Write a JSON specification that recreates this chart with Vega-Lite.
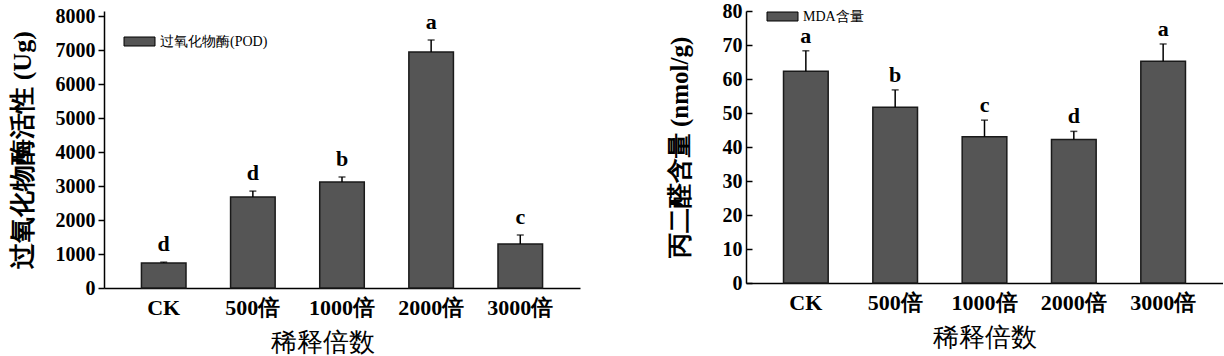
{
  "$schema": "https://vega.github.io/schema/vega-lite/v6.json",
  "padding": {"left": 8, "top": 1, "right": 0, "bottom": 0},
  "background": "white",
  "spacing": 87,
  "config": {
    "view": {"stroke": null},
    "font": "Liberation Serif",
    "axis": {
      "domainColor": "black", "domainWidth": 1.5, "tickColor": "black", "tickWidth": 1.5,
      "labelColor": "black", "titleColor": "black", "grid": false, "labelOverlap": false,
      "labelFont": "Liberation Serif", "titleFont": "Liberation Serif"
    }
  },
  "datasets": {
    "pod": [
      {"group": "CK", "value": 735, "upper": 760, "letter": "d", "series": "过氧化物酶(POD)"},
      {"group": "500倍", "value": 2676, "upper": 2850, "letter": "d", "series": "过氧化物酶(POD)"},
      {"group": "1000倍", "value": 3118, "upper": 3265, "letter": "b", "series": "过氧化物酶(POD)"},
      {"group": "2000倍", "value": 6941, "upper": 7294, "letter": "a", "series": "过氧化物酶(POD)"},
      {"group": "3000倍", "value": 1294, "upper": 1559, "letter": "c", "series": "过氧化物酶(POD)"}
    ],
    "mda": [
      {"group": "CK", "value": 62.3, "upper": 68.3, "letter": "a", "series": "MDA含量"},
      {"group": "500倍", "value": 51.7, "upper": 56.8, "letter": "b", "series": "MDA含量"},
      {"group": "1000倍", "value": 43.0, "upper": 47.9, "letter": "c", "series": "MDA含量"},
      {"group": "2000倍", "value": 42.2, "upper": 44.6, "letter": "d", "series": "MDA含量"},
      {"group": "3000倍", "value": 65.2, "upper": 70.3, "letter": "a", "series": "MDA含量"}
    ]
  },
  "resolve": {"scale": {"color": "independent"}, "legend": {"color": "independent"}},
  "hconcat": [
    {
      "width": 476, "height": 277,
      "data": {"name": "pod"},
      "encoding": {
        "x": {"field": "group", "type": "nominal", "sort": null,
          "scale": {"paddingInner": 0.5, "paddingOuter": 0.42},
          "axis": {"labelAngle": 0, "labelFontSize": 22, "labelFontWeight": "bold", "ticks": false, "labelPadding": 9,
            "title": "稀释倍数", "titleFontSize": 26, "titleFontWeight": "normal", "titlePadding": 11, "titleX": 218}}
      },
      "layer": [
        {"mark": {"type": "bar", "stroke": "#1a1a1a", "strokeWidth": 1.5},
          "encoding": {
            "y": {"field": "value", "type": "quantitative",
              "scale": {"domain": [0, 8147.06], "nice": false},
              "axis": {"values": [0,1000,2000,3000,4000,5000,6000,7000,8000], "tickCount": 20, "format": "d",
                "labelFontSize": 20, "labelFontWeight": "bold", "tickSize": 6, "labelPadding": 3,
                "title": "过氧化物酶活性 (Ug)", "titleFontSize": 26, "titleFontWeight": "bold", "titlePadding": 20}},
            "color": {"field": "series", "type": "nominal", "scale": {"range": ["#555555"]},
              "legend": {"title": null, "orient": "none", "legendX": 18, "legendY": 23.5, "padding": 0,
                "symbolType": "M-1,-0.9H5.2V0.9H-1Z", "symbolSize": 100, "symbolStrokeColor": "black", "symbolStrokeWidth": 1,
                "labelFont": "Liberation Serif", "labelFontSize": 14, "labelColor": "black", "labelOffset": 24}}
          }},
        {"mark": {"type": "rule", "color": "black", "strokeWidth": 1.5},
          "encoding": {"y": {"field": "value", "type": "quantitative"}, "y2": {"field": "upper"}}},
        {"mark": {"type": "tick", "color": "black", "thickness": 1.5, "size": 7},
          "encoding": {"y": {"field": "upper", "type": "quantitative"}}},
        {"mark": {"type": "text", "baseline": "alphabetic", "dy": -11, "fontSize": 22, "fontWeight": "bold", "font": "Liberation Serif", "color": "black"},
          "encoding": {"y": {"field": "upper", "type": "quantitative"}, "text": {"field": "letter"}}}
      ]
    },
    {
      "width": 477, "height": 272,
      "data": {"name": "mda"},
      "encoding": {
        "x": {"field": "group", "type": "nominal", "sort": null,
          "scale": {"paddingInner": 0.5, "paddingOuter": 0.42},
          "axis": {"labelAngle": 0, "labelFontSize": 22, "labelFontWeight": "bold", "ticks": false, "labelPadding": 9,
            "title": "稀释倍数", "titleFontSize": 26, "titleFontWeight": "normal", "titlePadding": 11}}
      },
      "layer": [
        {"mark": {"type": "bar", "stroke": "#1a1a1a", "strokeWidth": 1.5},
          "encoding": {
            "y": {"field": "value", "type": "quantitative",
              "scale": {"domain": [0, 80], "nice": false},
              "axis": {"values": [0,10,20,30,40,50,60,70,80], "tickCount": 20,
                "labelFontSize": 20, "labelFontWeight": "bold", "tickSize": -6, "labelPadding": 10,
                "title": "丙二醛含量 (nmol/g)", "titleFontSize": 25, "titleFontWeight": "bold", "titlePadding": 30}},
            "color": {"field": "series", "type": "nominal", "scale": {"range": ["#555555"]},
              "legend": {"title": null, "orient": "none", "legendX": 19, "legendY": -1.5, "padding": 0,
                "symbolType": "M-1,-0.9H5.2V0.9H-1Z", "symbolSize": 100, "symbolStrokeColor": "black", "symbolStrokeWidth": 1,
                "labelFont": "Liberation Serif", "labelFontSize": 14, "labelColor": "black", "labelOffset": 24}}
          }},
        {"mark": {"type": "rule", "color": "black", "strokeWidth": 1.5},
          "encoding": {"y": {"field": "value", "type": "quantitative"}, "y2": {"field": "upper"}}},
        {"mark": {"type": "tick", "color": "black", "thickness": 1.5, "size": 7},
          "encoding": {"y": {"field": "upper", "type": "quantitative"}}},
        {"mark": {"type": "text", "baseline": "alphabetic", "dy": -8, "fontSize": 22, "fontWeight": "bold", "font": "Liberation Serif", "color": "black"},
          "encoding": {"y": {"field": "upper", "type": "quantitative"}, "text": {"field": "letter"}}}
      ]
    }
  ]
}
